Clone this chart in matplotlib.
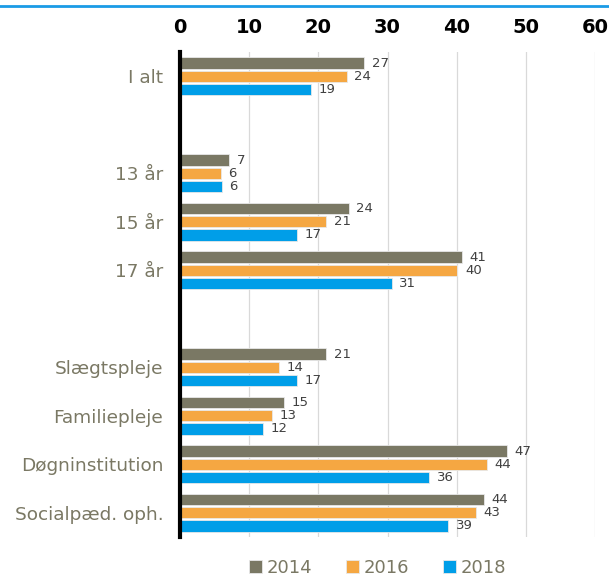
import numpy as np
import matplotlib.pyplot as plt

categories = ["I alt", "", "13 år", "15 år", "17 år", "",
              "Slægtspleje", "Familiepleje", "Døgninstitution", "Socialpæd. oph."]
years = ["2014", "2016", "2018"]
v2014 = [26.6, None, 7.1, 24.4, 40.7, None, 21.1, 15.0, 47.2, 43.9]
v2016 = [24.1, None, 5.9, 21.1, 40.1, None, 14.3, 13.3, 44.4, 42.8]
v2018 = [19.0, None, 6.0, 16.9, 30.6, None, 16.9, 12.0, 36.0, 38.8]
colors = ["#7a7864", "#f5a742", "#009ee8"]

fig = plt.figure(figsize=(6.09, 5.76), dpi=100)
ax = fig.add_axes([0.2956, 0.0677, 0.6815, 0.842])

y = np.arange(len(categories))
h = 0.235
offsets = [-0.27, 0, 0.27]
for vals, off, col, yr in zip([v2014, v2016, v2018], offsets, colors, years):
    idx = [i for i, v in enumerate(vals) if v is not None]
    w = [vals[i] for i in idx]
    ax.barh(y[idx] + off, w, height=h, color=col, edgecolor="#e8e8e8",
            linewidth=0.6, label=yr, zorder=3)
    for i, v in zip(idx, w):
        ax.text(v + 1.1, y[i] + off, f"{v:.0f}", va="center", ha="left",
                fontsize=9.5, color="#404040")

ax.set_ylim(len(categories) - 0.5, -0.5)
ax.set_xlim(0, 60)
ax.set_xticks(range(0, 61, 10))
ax.xaxis.tick_top()
ax.tick_params(axis="x", length=0, labelsize=14, pad=11)
for lab in ax.get_xticklabels():
    lab.set_fontweight("bold")
ax.set_yticks(y)
ax.set_yticklabels(categories, fontsize=13.3, color="#7a7864")
ax.tick_params(axis="y", length=0, pad=12)
ax.grid(axis="x", color="#d9d9d9", linewidth=0.9, zorder=0)
for s in ["top", "right", "bottom"]:
    ax.spines[s].set_visible(False)
ax.spines["left"].set_linewidth(3)
ax.spines["left"].set_color("black")
ax.spines["left"].set_zorder(4)

leg = fig.legend(loc="lower center", ncol=3, frameon=False, fontsize=13,
                 bbox_to_anchor=(0.62, -0.03), handlelength=0.7, handleheight=0.7,
                 columnspacing=1.9, handletextpad=0.25)
for t in leg.get_texts():
    t.set_color("#7a7864")

fig.add_artist(plt.Line2D([0, 1], [0.989, 0.989], color="#1a9be6", linewidth=2,
                          transform=fig.transFigure))

fig.savefig("out.png", dpi=100)
